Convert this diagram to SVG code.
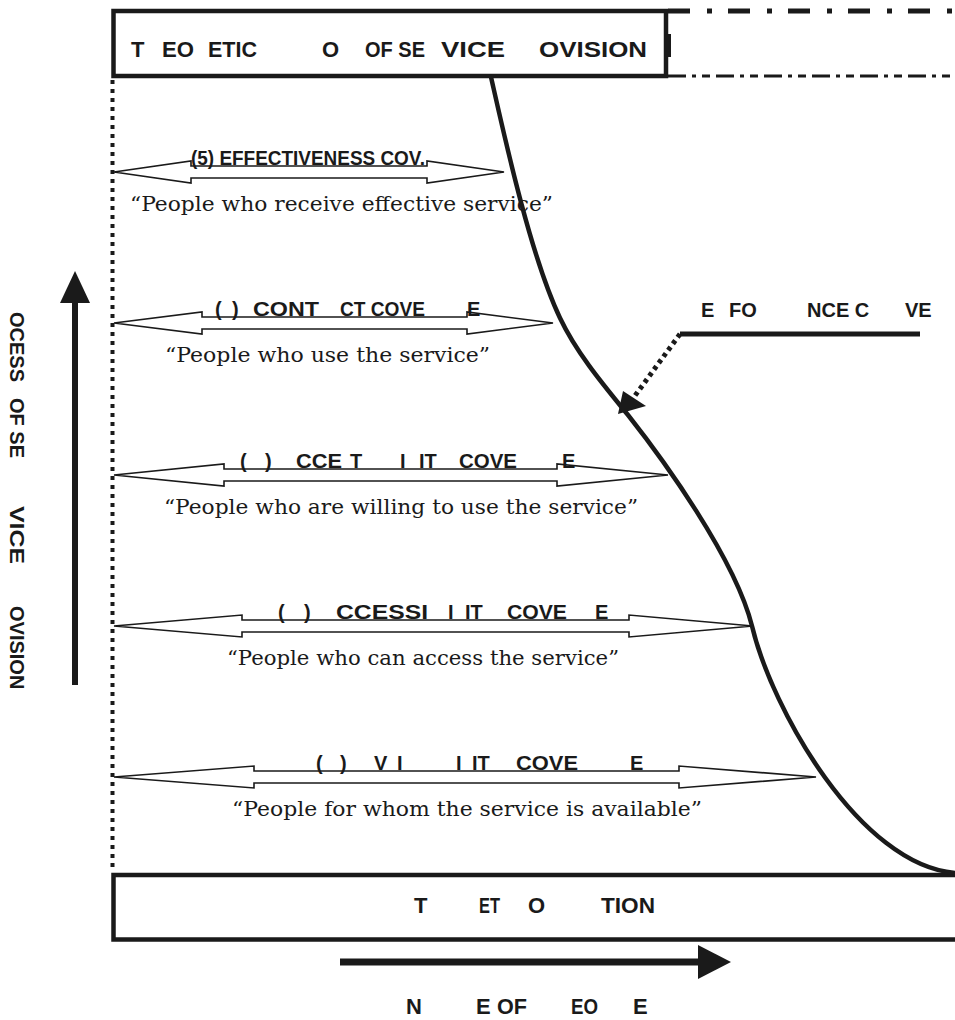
<svg xmlns="http://www.w3.org/2000/svg" width="955" height="1020" viewBox="0 0 955 1020">
  <defs>
    <style>
      .sans{font-family:"Liberation Sans",Arial,sans-serif;font-weight:bold;fill:#1a1a1a}
      .ttl{font-size:22px}
      .lbl{font-size:20px}
      .ax{font-size:20px}
      .qt{font-family:"DejaVu Serif","Liberation Serif",serif;font-size:21px;fill:#1a1a1a}
      .band{fill:#fff;stroke:#1a1a1a;stroke-width:1.6;stroke-linejoin:miter}
      .box{fill:#fff;stroke:#1a1a1a;stroke-width:4.5}
      .ink{stroke:#1a1a1a;fill:none}
    </style>
  </defs>
  <rect width="955" height="1020" fill="#fff"/>

  <!-- left dotted boundary -->
  <line class="ink" x1="112.5" y1="80" x2="112.5" y2="871" stroke-width="4" stroke-dasharray="4 5"/>

  <!-- top bar: theoretical level -->
  <g id="top-bar">
    <line class="ink" x1="668" y1="11" x2="955" y2="11" stroke-width="5" stroke-dasharray="22 17 5 16"/>
    <line class="ink" x1="668" y1="76" x2="955" y2="76" stroke-width="3" stroke-dasharray="18 6 4 6 8 6"/>
    <rect class="box" x="113.5" y="11" width="552.5" height="65"/>
    <line class="ink" x1="669" y1="34" x2="669" y2="57" stroke-width="4"/>
    <g class="sans ttl">
      <text x="131" y="57">T</text>
      <text x="162" y="57" textLength="32" lengthAdjust="spacingAndGlyphs">EO</text>
      <text x="208" y="57" textLength="49" lengthAdjust="spacingAndGlyphs">ETIC</text>
      <text x="322" y="57">O</text>
      <text x="365" y="57" textLength="60" lengthAdjust="spacingAndGlyphs">OF SE</text>
      <text x="441" y="57" textLength="64" lengthAdjust="spacingAndGlyphs">VICE</text>
      <text x="539" y="57" textLength="108" lengthAdjust="spacingAndGlyphs">OVISION</text>
    </g>
  </g>

  <!-- bottom bar: target population -->
  <g id="bottom-bar">
    <rect class="box" x="113.5" y="875" width="850" height="64.5"/>
    <g class="sans ttl">
      <text x="414" y="913">T</text>
      <text x="479" y="913" textLength="21" lengthAdjust="spacingAndGlyphs">ET</text>
      <text x="528" y="913">O</text>
      <text x="601" y="913" textLength="54" lengthAdjust="spacingAndGlyphs">TION</text>
    </g>
  </g>

  <!-- coverage bands -->
  <g id="band-5">
    <polygon class="band" points="114,172 191,161 191,166 427,166 427,161 504,172 427,183 427,178 191,178 191,183"/>
    <text class="sans lbl" x="191" y="165" textLength="234" lengthAdjust="spacingAndGlyphs">(5) EFFECTIVENESS COV.</text>
    <text class="qt" x="130" y="211" textLength="423" lengthAdjust="spacingAndGlyphs">“People who receive effective service”</text>
  </g>

  <g id="band-4">
    <polygon class="band" points="114,323 202,312 202,317 467,317 467,312 553,323 467,334 467,329 202,329 202,334"/>
    <g class="sans lbl">
      <text x="215" y="316">(</text>
      <text x="232" y="316">)</text>
      <text x="253" y="316" textLength="66" lengthAdjust="spacingAndGlyphs">CONT</text>
      <text x="340" y="316" textLength="85" lengthAdjust="spacingAndGlyphs">CT COVE</text>
      <text x="467" y="316">E</text>
    </g>
    <text class="qt" x="165" y="362" textLength="325" lengthAdjust="spacingAndGlyphs">“People who use the service”</text>
  </g>

  <g id="band-3">
    <polygon class="band" points="114,475 224,464 224,469 557,469 557,464 668,475 557,486 557,481 224,481 224,486"/>
    <g class="sans lbl">
      <text x="240" y="468">(</text>
      <text x="265" y="468">)</text>
      <text x="296" y="468" textLength="46" lengthAdjust="spacingAndGlyphs">CCE</text>
      <text x="350" y="468">T</text>
      <text x="400" y="468">I</text>
      <text x="419" y="468">IT</text>
      <text x="459" y="468" textLength="58" lengthAdjust="spacingAndGlyphs">COVE</text>
      <text x="562" y="468">E</text>
    </g>
    <text class="qt" x="164" y="514" textLength="474" lengthAdjust="spacingAndGlyphs">“People who are willing to use the service”</text>
  </g>

  <g id="band-2">
    <polygon class="band" points="114,626 242,615 242,620 629,620 629,615 753,626 629,637 629,632 242,632 242,637"/>
    <g class="sans lbl">
      <text x="278" y="619">(</text>
      <text x="304" y="619">)</text>
      <text x="336" y="619" textLength="92" lengthAdjust="spacingAndGlyphs">CCESSI</text>
      <text x="448" y="619">I</text>
      <text x="465" y="619">IT</text>
      <text x="507" y="619" textLength="60" lengthAdjust="spacingAndGlyphs">COVE</text>
      <text x="595" y="619">E</text>
    </g>
    <text class="qt" x="227" y="665" textLength="392" lengthAdjust="spacingAndGlyphs">“People who can access the service”</text>
  </g>

  <g id="band-1">
    <polygon class="band" points="114,777 254,766 254,771 679,771 679,766 816,777 679,788 679,783 254,783 254,788"/>
    <g class="sans lbl">
      <text x="316" y="770">(</text>
      <text x="340" y="770">)</text>
      <text x="374" y="770">V</text>
      <text x="397" y="770">I</text>
      <text x="456" y="770">I</text>
      <text x="472" y="770">IT</text>
      <text x="516" y="770" textLength="62" lengthAdjust="spacingAndGlyphs">COVE</text>
      <text x="630" y="770">E</text>
    </g>
    <text class="qt" x="232" y="816" textLength="470" lengthAdjust="spacingAndGlyphs">“People for whom the service is available”</text>
  </g>

  <!-- curve label -->
  <g id="curve-label">
    <g class="sans lbl">
      <text x="701" y="317">E</text>
      <text x="729" y="317">FO</text>
      <text x="807" y="317">NCE C</text>
      <text x="905" y="317">VE</text>
    </g>
  </g>

  <!-- axis labels -->
  <g id="axis-y-label" class="sans ax" transform="translate(10,0) rotate(90)">
    <text x="312" y="0">OCESS</text>
    <text x="398" y="0">OF SE</text>
    <text x="506" y="0" textLength="58" lengthAdjust="spacingAndGlyphs">VICE</text>
    <text x="606" y="0">OVISION</text>
  </g>
  <g id="axis-x-label" class="sans ttl">
    <text x="406" y="1014">N</text>
    <text x="476" y="1014">E</text>
    <text x="497" y="1014" textLength="30" lengthAdjust="spacingAndGlyphs">OF</text>
    <text x="571" y="1014" textLength="27" lengthAdjust="spacingAndGlyphs">EO</text>
    <text x="633" y="1014">E</text>
  </g>

  <!-- connectors -->
  <g id="connectors">
    <path class="ink" stroke-width="4.5" stroke-linecap="round"
      d="M491,77 C503,130 530,255 560,318 C577,354 606,388 628,415 C662,458 735,558 752,626 C772,710 860,865 955,873"/>
    <line class="ink" x1="680" y1="334" x2="920" y2="334" stroke-width="5"/>
    <line class="ink" x1="680" y1="334" x2="634" y2="397" stroke-width="5" stroke-dasharray="4 4"/>
    <polygon fill="#1a1a1a" points="618,414 623,391 646,406"/>
    <line class="ink" x1="75" y1="685" x2="75" y2="300" stroke-width="6"/>
    <polygon fill="#1a1a1a" points="75,271 60,303 90,303"/>
    <line class="ink" x1="340" y1="962" x2="700" y2="962" stroke-width="7"/>
    <polygon fill="#1a1a1a" points="731,962 698,945 698,979"/>
  </g>
</svg>
